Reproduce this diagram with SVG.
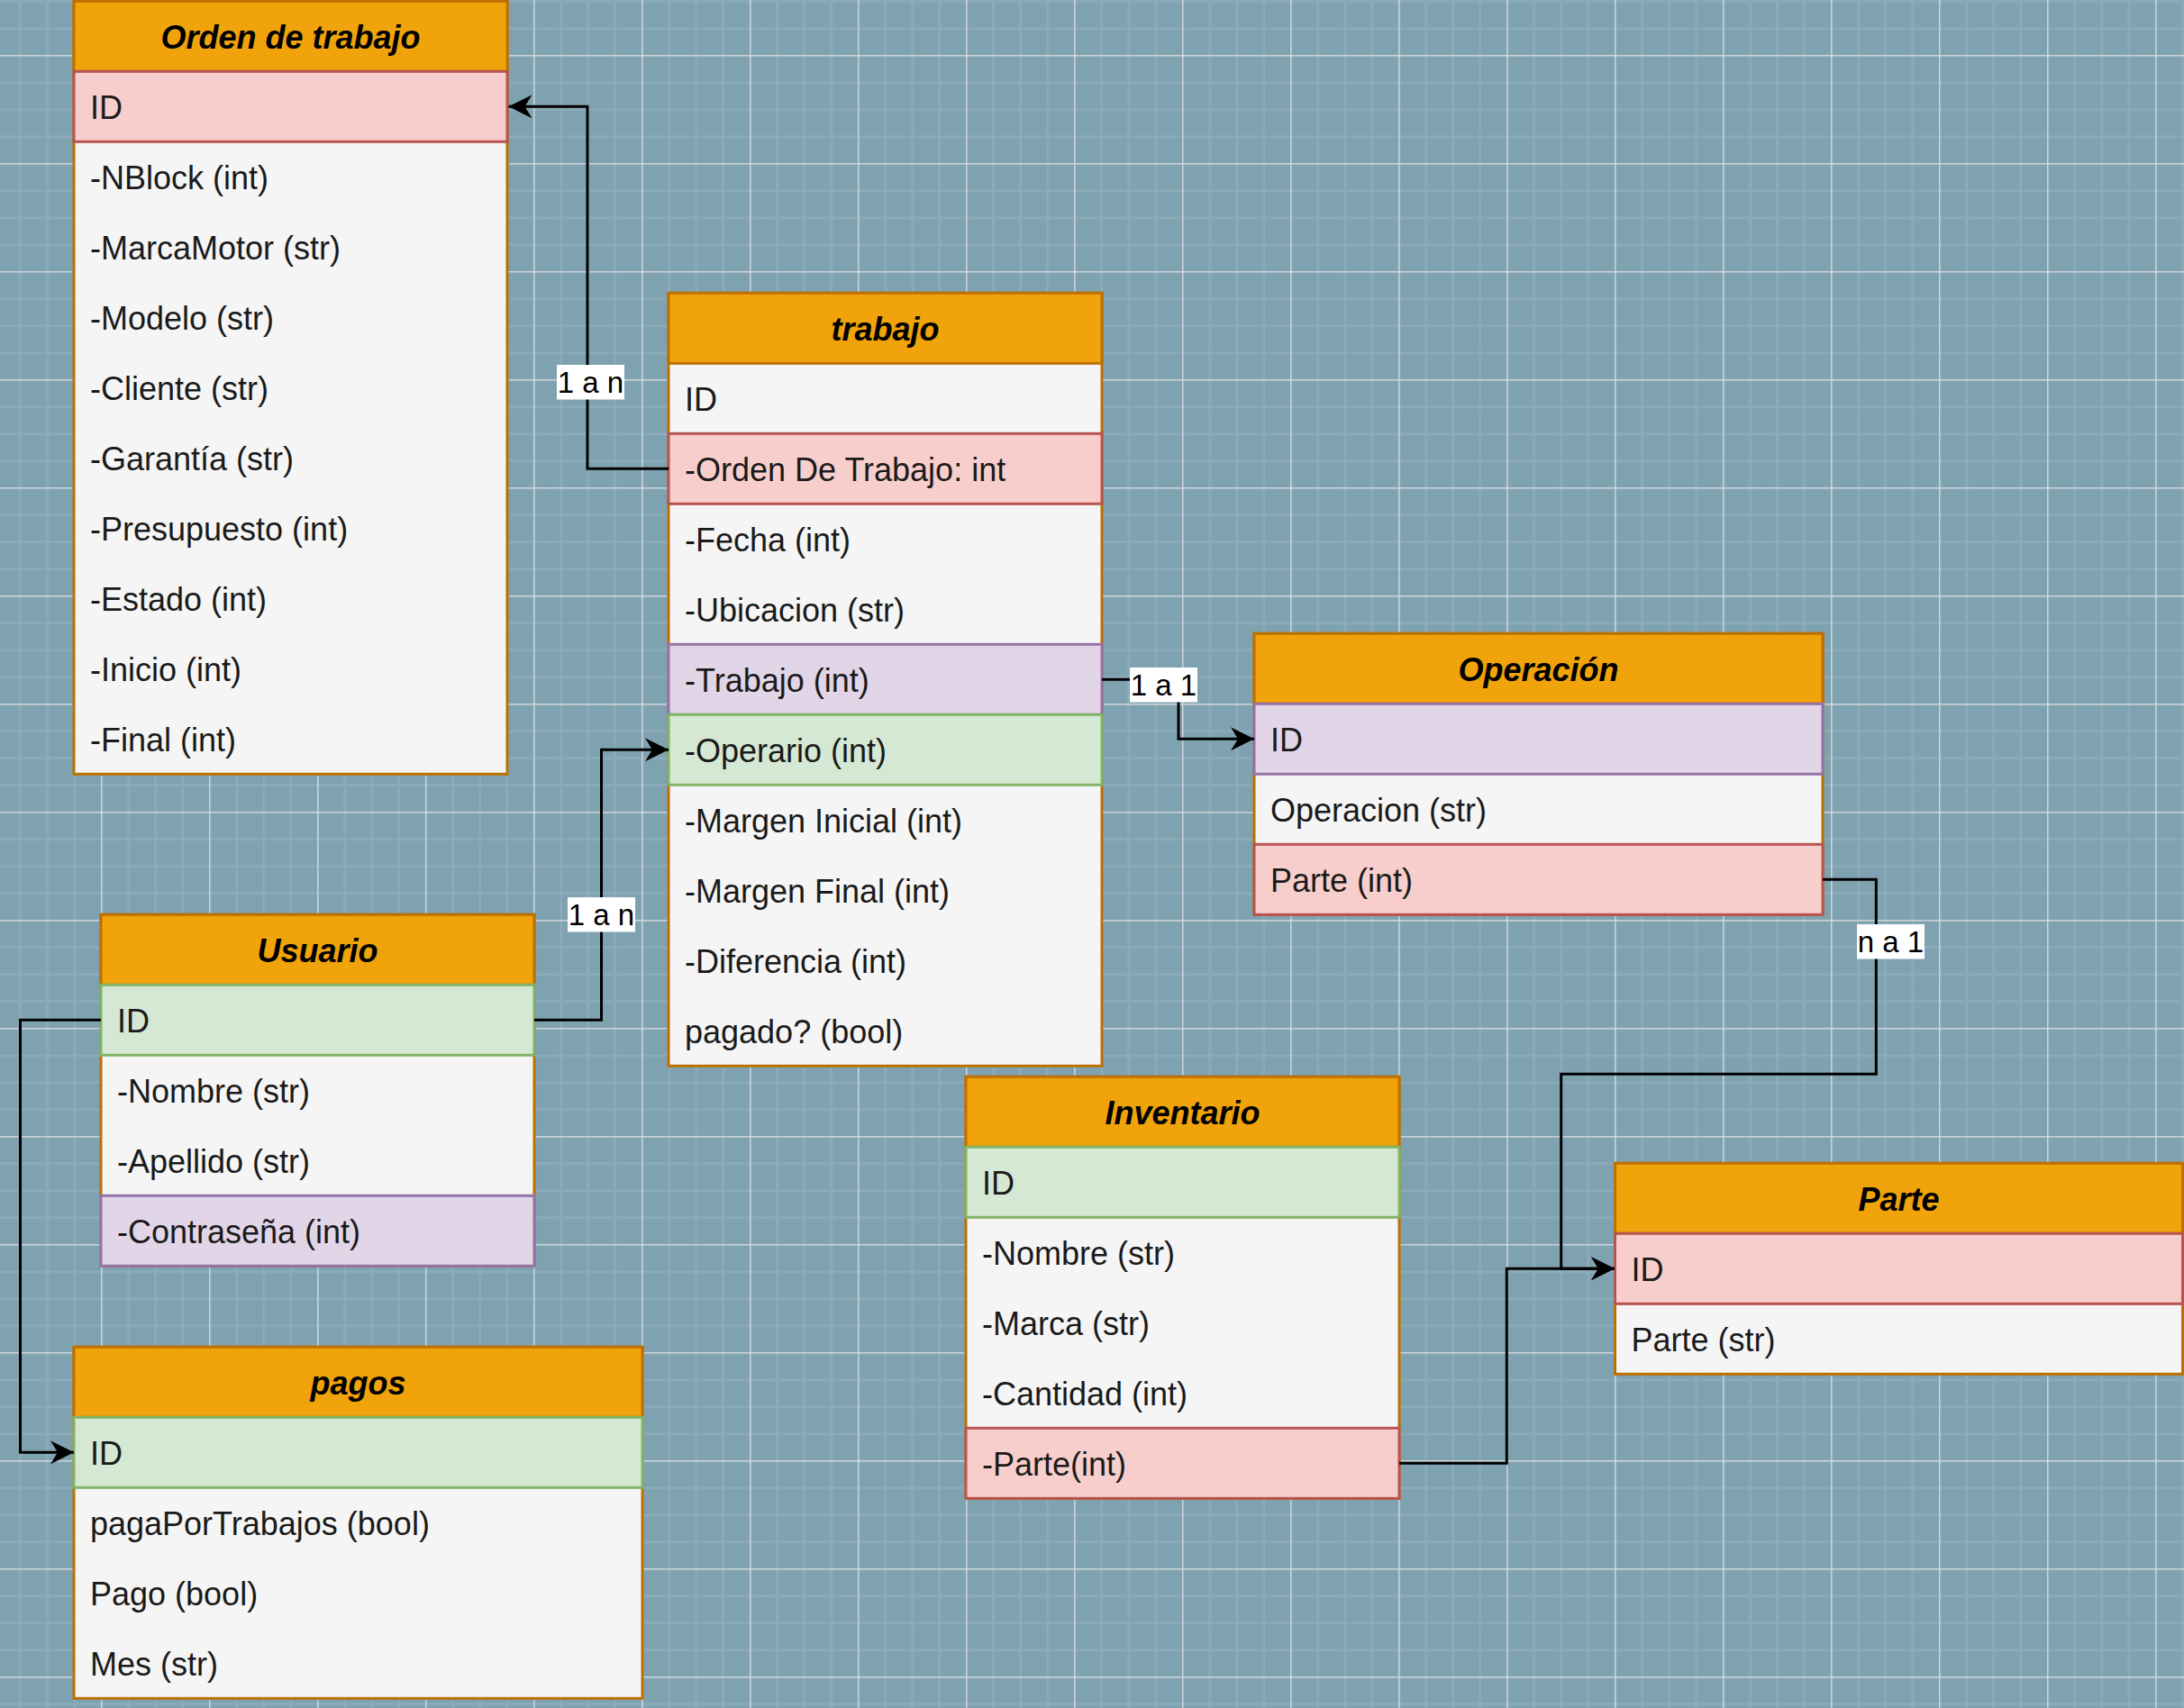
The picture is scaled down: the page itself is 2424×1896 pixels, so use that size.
<svg xmlns="http://www.w3.org/2000/svg" width="2424" height="1896" viewBox="0 0 2424 1896">
<defs>
<style>
.box{fill:#f5f5f5;stroke:#bd7000;stroke-width:3}
.hdr{fill:#f0a30a;stroke:#bd7000;stroke-width:3}
.pink{fill:#f8cecc;stroke:#b85450;stroke-width:3}
.purple{fill:#e1d5e7;stroke:#9673a6;stroke-width:3}
.green{fill:#d5e8d4;stroke:#82b366;stroke-width:3}
text{font-family:"Liberation Sans",Arial,Helvetica,sans-serif;font-size:36px;fill:#1a1a1a}
.h{font-weight:bold;font-style:italic;text-anchor:middle;fill:#000}
.edge{fill:none;stroke:#000;stroke-width:3}
.lblbg{fill:#fff}
.lbl{font-size:33px;text-anchor:middle;fill:#000}
</style>
<pattern id="grid" x="112.2" y="61.2" width="120" height="120" patternUnits="userSpaceOnUse">
<path d="M30.5,0V120M60.5,0V120M90.5,0V120M0,30.5H120M0,60.5H120M0,90.5H120" stroke="#8dacba" stroke-width="2.5" fill="none"/>
<path d="M0.5,0V120M0,0.5H120" stroke="#dfe2e3" stroke-width="1.5" fill="none"/>
</pattern>
<marker id="arr" markerWidth="28" markerHeight="28" refX="26" refY="13" orient="auto" markerUnits="userSpaceOnUse">
<path d="M0,0L26,13L0,26L8,13Z" fill="#000"/>
</marker>
</defs>
<rect x="0" y="0" width="2424" height="1896" fill="#7fa2b1"/>
<rect x="0" y="0" width="2424" height="1896" fill="url(#grid)"/>

<g id="orden-de-trabajo">
<rect class="box" x="82" y="1.3" width="481" height="858"/>
<rect class="hdr" x="82" y="1.3" width="481" height="78"/>
<rect class="pink" x="82" y="79.3" width="481" height="78"/>
<text class="h" x="322.5" y="54.3">Orden de trabajo</text>
<text x="100" y="132.3">ID</text>
<text x="100" y="210.3">-NBlock (int)</text>
<text x="100" y="288.3">-MarcaMotor (str)</text>
<text x="100" y="366.3">-Modelo (str)</text>
<text x="100" y="444.3">-Cliente (str)</text>
<text x="100" y="522.3">-Garantía (str)</text>
<text x="100" y="600.3">-Presupuesto (int)</text>
<text x="100" y="678.3">-Estado (int)</text>
<text x="100" y="756.3">-Inicio (int)</text>
<text x="100" y="834.3">-Final (int)</text>
</g>

<g id="trabajo">
<rect class="box" x="742" y="325.3" width="481" height="858"/>
<rect class="hdr" x="742" y="325.3" width="481" height="78"/>
<rect class="pink" x="742" y="481.3" width="481" height="78"/>
<rect class="purple" x="742" y="715.3" width="481" height="78"/>
<rect class="green" x="742" y="793.3" width="481" height="78"/>
<text class="h" x="982.5" y="378.3">trabajo</text>
<text x="760" y="456.3">ID</text>
<text x="760" y="534.3">-Orden De Trabajo: int</text>
<text x="760" y="612.3">-Fecha (int)</text>
<text x="760" y="690.3">-Ubicacion (str)</text>
<text x="760" y="768.3">-Trabajo (int)</text>
<text x="760" y="846.3">-Operario (int)</text>
<text x="760" y="924.3">-Margen Inicial (int)</text>
<text x="760" y="1002.3">-Margen Final (int)</text>
<text x="760" y="1080.3">-Diferencia (int)</text>
<text x="760" y="1158.3">pagado? (bool)</text>
</g>

<g id="operacion">
<rect class="box" x="1392" y="703.3" width="631" height="312"/>
<rect class="hdr" x="1392" y="703.3" width="631" height="78"/>
<rect class="purple" x="1392" y="781.3" width="631" height="78"/>
<rect class="pink" x="1392" y="937.3" width="631" height="78"/>
<text class="h" x="1707.5" y="756.3">Operación</text>
<text x="1410" y="834.3">ID</text>
<text x="1410" y="912.3">Operacion (str)</text>
<text x="1410" y="990.3">Parte (int)</text>
</g>

<g id="usuario">
<rect class="box" x="112" y="1015.3" width="481" height="390"/>
<rect class="hdr" x="112" y="1015.3" width="481" height="78"/>
<rect class="green" x="112" y="1093.3" width="481" height="78"/>
<rect class="purple" x="112" y="1327.3" width="481" height="78"/>
<text class="h" x="352.5" y="1068.3">Usuario</text>
<text x="130" y="1146.3">ID</text>
<text x="130" y="1224.3">-Nombre (str)</text>
<text x="130" y="1302.3">-Apellido (str)</text>
<text x="130" y="1380.3">-Contraseña (int)</text>
</g>

<g id="pagos">
<rect class="box" x="82" y="1495.3" width="631" height="390"/>
<rect class="hdr" x="82" y="1495.3" width="631" height="78"/>
<rect class="green" x="82" y="1573.3" width="631" height="78"/>
<text class="h" x="397.5" y="1548.3">pagos</text>
<text x="100" y="1626.3">ID</text>
<text x="100" y="1704.3">pagaPorTrabajos (bool)</text>
<text x="100" y="1782.3">Pago (bool)</text>
<text x="100" y="1860.3">Mes (str)</text>
</g>

<g id="inventario">
<rect class="box" x="1072" y="1195.3" width="481" height="468"/>
<rect class="hdr" x="1072" y="1195.3" width="481" height="78"/>
<rect class="green" x="1072" y="1273.3" width="481" height="78"/>
<rect class="pink" x="1072" y="1585.3" width="481" height="78"/>
<text class="h" x="1312.5" y="1248.3">Inventario</text>
<text x="1090" y="1326.3">ID</text>
<text x="1090" y="1404.3">-Nombre (str)</text>
<text x="1090" y="1482.3">-Marca (str)</text>
<text x="1090" y="1560.3">-Cantidad (int)</text>
<text x="1090" y="1638.3">-Parte(int)</text>
</g>

<g id="parte">
<rect class="box" x="1792.5" y="1291.3" width="630" height="234"/>
<rect class="hdr" x="1792.5" y="1291.3" width="630" height="78"/>
<rect class="pink" x="1792.5" y="1369.3" width="630" height="78"/>
<text class="h" x="2107.5" y="1344.3">Parte</text>
<text x="1810.5" y="1422.3">ID</text>
<text x="1810.5" y="1500.3">Parte (str)</text>
</g>

<g id="connectors">
<path class="edge" d="M742,520.3H652V118.3H564.5" marker-end="url(#arr)"/>
<path class="edge" d="M593,1132.3H667.5V832.3H742" marker-end="url(#arr)"/>
<path class="edge" d="M1223,754.3H1308V820.3H1392" marker-end="url(#arr)"/>
<path class="edge" d="M112,1132.3H22.5V1612.3H82" marker-end="url(#arr)"/>
<path class="edge" d="M2023,976.3H2082.3V1192.3H1732.7V1408.3H1792" marker-end="url(#arr)"/>
<path class="edge" d="M1553,1624.3H1672.3V1408.3H1792" marker-end="url(#arr)"/>
<rect class="lblbg" x="618" y="405" width="75" height="38.5"/>
<text class="lbl" x="655.5" y="435.5">1 a n</text>
<rect class="lblbg" x="630" y="996" width="75" height="38.5"/>
<text class="lbl" x="667.5" y="1026.5">1 a n</text>
<rect class="lblbg" x="1254" y="741" width="75" height="38.5"/>
<text class="lbl" x="1291.5" y="771.5">1 a 1</text>
<rect class="lblbg" x="2061" y="1026" width="75" height="38.5"/>
<text class="lbl" x="2098.5" y="1056.5">n a 1</text>
</g>
</svg>
